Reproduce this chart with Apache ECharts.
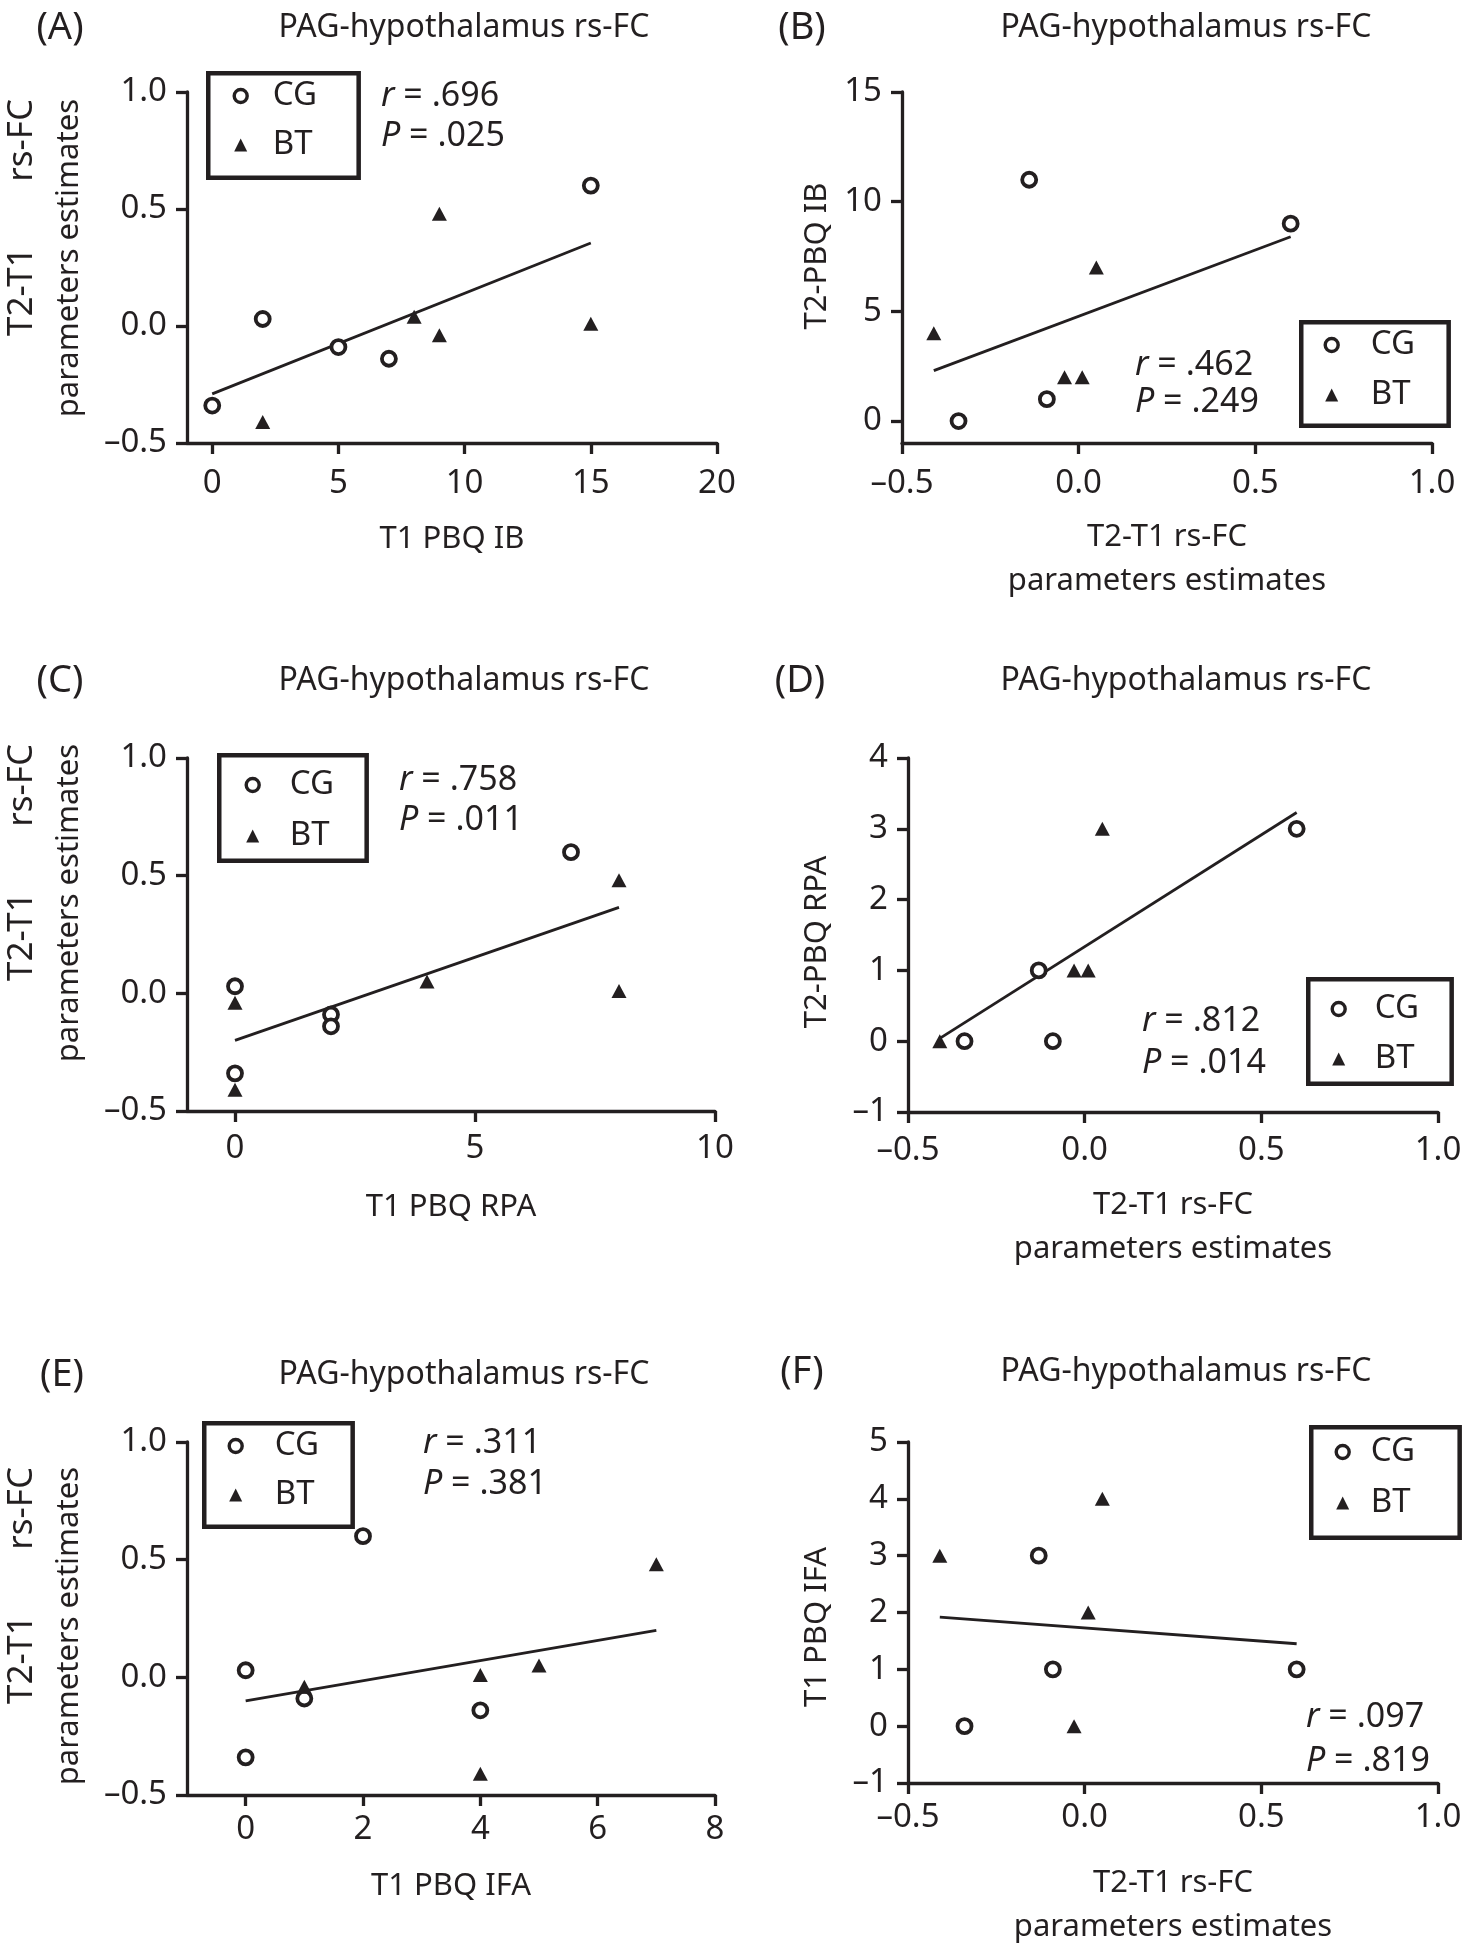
<!DOCTYPE html>
<html>
<head>
<meta charset="utf-8">
<script src="https://cdn.jsdelivr.net/npm/echarts@6/dist/echarts.min.js"></script>
<style>
html,body{margin:0;padding:0;background:#fff;}
#chart{width:1467px;height:1950px;}
</style>
</head>
<body>
<div id="chart"></div>
<script>
// ---------------- DATA ----------------
// Panel A: x = T1 PBQ IB, y = T2-T1 rs-FC parameter estimates
const aCGx = [0, 2, 5, 7, 15];
const aCGy = [-0.34, 0.03, -0.09, -0.14, 0.60];
const aBTx = [2, 8, 9, 9, 15];
const aBTy = [-0.41, 0.04, 0.48, -0.04, 0.01];
const aFitX = [0, 15];
const aFitY = [-0.29, 0.355];

// Panel B: x = T2-T1 rs-FC, y = T2-PBQ IB
const bCGx = [-0.34, -0.14, -0.09, 0.60];
const bCGy = [0, 11, 1, 9];
const bBTx = [-0.41, -0.04, 0.01, 0.05];
const bBTy = [4, 2, 2, 7];
const bFitX = [-0.41, 0.60];
const bFitY = [2.3, 8.4];

// Panel C: x = T1 PBQ RPA, y = T2-T1 rs-FC
const cCGx = [0, 0, 2, 2, 7];
const cCGy = [0.03, -0.34, -0.09, -0.14, 0.60];
const cBTx = [0, 0, 4, 8, 8];
const cBTy = [-0.04, -0.41, 0.05, 0.48, 0.01];
const cFitX = [0, 8];
const cFitY = [-0.20, 0.365];

// Panel D: x = T2-T1 rs-FC, y = T2-PBQ RPA
const dCGx = [-0.34, -0.13, -0.09, 0.60];
const dCGy = [0, 1, 0, 3];
const dBTx = [-0.41, -0.03, 0.01, 0.05];
const dBTy = [0, 1, 1, 3];
const dFitX = [-0.41, 0.60];
const dFitY = [0.04, 3.23];

// Panel E: x = T1 PBQ IFA, y = T2-T1 rs-FC
const eCGx = [0, 0, 1, 2, 4];
const eCGy = [0.03, -0.34, -0.09, 0.60, -0.14];
const eBTx = [1, 4, 4, 5, 7];
const eBTy = [-0.04, 0.01, -0.41, 0.05, 0.48];
const eFitX = [0, 7];
const eFitY = [-0.10, 0.20];

// Panel F: x = T2-T1 rs-FC, y = T1 PBQ IFA
const fCGx = [-0.34, -0.13, -0.09, 0.60];
const fCGy = [0, 3, 1, 1];
const fBTx = [-0.41, -0.03, 0.01, 0.05];
const fBTy = [3, 0, 2, 4];
const fFitX = [-0.41, 0.60];
const fFitY = [1.92, 1.45];

// Tick labels
const ticksA_x = [0, 5, 10, 15, 20];
const ticksC_x = [0, 5, 10];
const ticksE_x = [0, 2, 4, 6, 8];
const ticksFC = [-0.5, 0.0, 0.5, 1.0];
const ticksB_y = [0, 5, 10, 15];
const ticksD_y = [-1, 0, 1, 2, 3, 4];
const ticksF_y = [-1, 0, 1, 2, 3, 4, 5];

// Texts
const panelLabels = ['(A)', '(B)', '(C)', '(D)', '(E)', '(F)'];
const panelTitle = 'PAG-hypothalamus rs-FC';
const statsR = ['.696', '.462', '.758', '.812', '.311', '.097'];
const statsP = ['.025', '.249', '.011', '.014', '.381', '.819'];
const yNameFC = ['T2-T1', 'rs-FC', 'parameters estimates'];
const xNames = ['T1 PBQ IB', 'T2-T1 rs-FC\nparameters estimates', 'T1 PBQ RPA',
                'T2-T1 rs-FC\nparameters estimates', 'T1 PBQ IFA', 'T2-T1 rs-FC\nparameters estimates'];
const yNamesRight = ['T2-PBQ IB', 'T2-PBQ RPA', 'T1 PBQ IFA'];
const groups = ['CG', 'BT'];

// ---------------- STYLE / LAYOUT ----------------
const FONT = 'Noto Sans';
const TXT = '#231f20';
const AX = '#231f20';

const zip = (xs, ys) => xs.map((x, i) => [x, ys[i]]);
const dash = v => (v < 0 ? '\u2013' : '') ;
const fmtDec = v => dash(v) + Math.abs(v).toFixed(1);
const fmtInt = v => dash(v) + Math.abs(v);

const P = [
  { grid:{left:187, top:92, width:530, height:351},
    x:{min:-1, max:20, custom:ticksA_x, fmt:fmtInt, margin:24.5},
    y:{min:-0.5, max:1, custom:ticksFC, fmt:fmtDec},
    data:[aCGx,aCGy,aBTx,aBTy,aFitX,aFitY], nameGap:76, nameLH:40,
    label:[60,28], title:[464,28], stat:[381,96,136], ynameTop:99,
    leg:[206,71,358,176,239,95,142,271] },
  { grid:{left:902, top:92, width:530, height:351},
    x:{min:-0.5, max:1, custom:ticksFC, fmt:fmtDec, margin:24.5},
    y:{min:-1, max:15, custom:ticksB_y, fmt:fmtInt},
    data:[bCGx,bCGy,bBTx,bBTy,bFitX,bFitY], nameGap:72, nameLH:44,
    label:[802,28], title:[1186,28], stat:[1135,365,402], yname:[817,256],
    leg:[1299,320,1448,424,1330,344,392,1369] },
  { grid:{left:187, top:758, width:528, height:353},
    x:{min:-1, max:10, custom:ticksC_x, fmt:fmtInt, margin:21.5},
    y:{min:-0.5, max:1, custom:ticksFC, fmt:fmtDec},
    data:[cCGx,cCGy,cBTx,cBTy,cFitX,cFitY], nameGap:76, nameLH:40,
    label:[60,681], title:[464,681], stat:[399,780,820], ynameTop:744,
    leg:[217,753,366,859,251,784,833,288] },
  { grid:{left:908, top:758, width:530, height:354},
    x:{min:-0.5, max:1, custom:ticksFC, fmt:fmtDec, margin:22.5},
    y:{min:-1, max:4, custom:ticksD_y, fmt:fmtInt},
    data:[dCGx,dCGy,dBTx,dBTy,dFitX,dFitY], nameGap:71, nameLH:44,
    label:[800,681], title:[1186,681], stat:[1142,1021,1063], yname:[817,942],
    leg:[1306,977,1451,1082,1337,1008,1056,1373] },
  { grid:{left:187, top:1442, width:528, height:353},
    x:{min:-1, max:8, custom:ticksE_x, fmt:fmtInt, margin:18.5},
    y:{min:-0.5, max:1, custom:ticksFC, fmt:fmtDec},
    data:[eCGx,eCGy,eBTx,eBTy,eFitX,eFitY], nameGap:71, nameLH:40,
    label:[62,1375], title:[464,1375], stat:[423,1443,1484], ynameTop:1467,
    leg:[202,1421,352,1525,234,1445,1492,273] },
  { grid:{left:908, top:1442, width:530, height:353},
    x:{min:-0.5, max:1, custom:ticksFC, fmt:fmtDec, margin:18.5},
    y:{min:-1, max:5, custom:ticksF_y, fmt:fmtInt},
    data:[fCGx,fCGy,fBTx,fBTy,fFitX,fFitY], nameGap:78, nameLH:44,
    label:[802,1372], title:[1186,1372], stat:[1306,1717,1761], yname:[817,1627],
    leg:[1309,1425,1459,1536,1341,1451,1500,1369] }
];

function legendAt(l) {
  const [oL, oT, oR, oB, icx, cy1, cy2, tx] = l;
  const bw = 4.5, s = 13, lh = 31, textW = 43;
  const L = oL + bw / 2, T = oT + bw / 2, R = oR - bw / 2, B = oB - bw / 2;
  const iconL = icx - s / 2;
  const padL = iconL - L;
  const txtPad = tx - (iconL + s + 5);
  const padR = Math.max(2, R - (iconL + s + 5 + txtPad + textW));
  const padT = (cy1 - lh / 2) - T;
  const gap = (cy2 - cy1) - lh;
  const padB = B - (cy2 + lh / 2);
  return {
    orient: 'vertical', left: L, top: T,
    padding: [padT, padR, padB, padL], itemGap: gap,
    itemWidth: s, itemHeight: s,
    borderColor: AX, borderWidth: bw, borderRadius: 0,
    selectedMode: false,
    textStyle: { fontFamily: FONT, fontSize: 33, lineHeight: lh, color: TXT, padding: [0, 0, 0, txtPad] },
    data: [
      { name: groups[0], icon: 'circle', itemStyle: { color: '#fff', borderColor: AX, borderWidth: 3.4 } },
      { name: groups[1], icon: 'triangle', itemStyle: { color: AX, borderWidth: 0 } }
    ]
  };
}

const grids = [], xAxes = [], yAxes = [], series = [], legends = [], graphics = [];

P.forEach((p, i) => {
  grids.push(p.grid);
  const axisCommon = {
    type: 'value',
    gridIndex: i,
    splitLine: { show: false },
    axisLine: { show: true, onZero: false, lineStyle: { color: AX, width: 3.3 } },
  };
  xAxes.push(Object.assign({}, axisCommon, {
    min: p.x.min, max: p.x.max,
    axisTick: { show: true, length: 11, lineStyle: { color: AX, width: 3.3 }, customValues: p.x.custom },
    axisLabel: { fontFamily: FONT, fontSize: 33, lineHeight: 33, color: TXT, margin: p.x.margin,
                 formatter: p.x.fmt, customValues: p.x.custom },
    name: xNames[i], nameLocation: 'middle', nameGap: p.nameGap,
    nameTextStyle: { fontFamily: FONT, fontSize: 31, lineHeight: p.nameLH, color: TXT }
  }));
  yAxes.push(Object.assign({}, axisCommon, {
    min: p.y.min, max: p.y.max,
    axisTick: { show: true, length: 11, lineStyle: { color: AX, width: 3.3 }, customValues: p.y.custom },
    axisLabel: { fontFamily: FONT, fontSize: 33, color: TXT, margin: 20,
                 formatter: p.y.fmt, customValues: p.y.custom }
  }));
  const [cgx, cgy, btx, bty, fx, fy] = p.data;
  series.push({
    type: 'line', name: 'fit', xAxisIndex: i, yAxisIndex: i, z: 1,
    data: zip(fx, fy), showSymbol: false, symbol: 'none',
    lineStyle: { color: AX, width: 2.8 }, silent: true
  });
  series.push({
    type: 'scatter', name: groups[0], xAxisIndex: i, yAxisIndex: i, z: 3,
    data: zip(cgx, cgy), symbol: 'circle', symbolSize: 14,
    itemStyle: { color: '#fff', borderColor: AX, borderWidth: 3.8, opacity: 1 }
  });
  series.push({
    type: 'scatter', name: groups[1], xAxisIndex: i, yAxisIndex: i, z: 4,
    data: zip(btx, bty), symbol: 'triangle', symbolSize: [15, 14],
    itemStyle: { color: AX, opacity: 1 }
  });
  legends.push(legendAt(p.leg));

  // panel label & title
  graphics.push({ type: 'text', x: p.label[0], y: p.label[1], silent: true,
    style: { text: panelLabels[i], fontFamily: FONT, fontSize: 38, fill: TXT, textAlign: 'center', textVerticalAlign: 'middle' } });
  graphics.push({ type: 'text', x: p.title[0], y: p.title[1], silent: true,
    style: { text: panelTitle, fontFamily: FONT, fontSize: 32, fill: TXT, textAlign: 'center', textVerticalAlign: 'middle' } });
  // statistics
  const rich = { i: { fontStyle: 'italic', fontFamily: FONT, fontSize: 34, fill: TXT } };
  graphics.push({ type: 'text', x: p.stat[0], y: p.stat[1], silent: true,
    style: { text: '{i|r} = ' + statsR[i], rich, fontFamily: FONT, fontSize: 34, fill: TXT, textAlign: 'left', textVerticalAlign: 'middle' } });
  graphics.push({ type: 'text', x: p.stat[0], y: p.stat[2], silent: true,
    style: { text: '{i|P} = ' + statsP[i], rich, fontFamily: FONT, fontSize: 34, fill: TXT, textAlign: 'left', textVerticalAlign: 'middle' } });
  // y axis names
  const ys = { fontFamily: FONT, fontSize: 31, fill: TXT, textVerticalAlign: 'middle' };
  if (p.yname) {
    graphics.push({ type: 'text', x: p.yname[0], y: p.yname[1], rotation: Math.PI / 2, silent: true,
      style: Object.assign({ text: yNamesRight[(i - 1) / 2], textAlign: 'center' }, ys) });
  } else {
    const top = p.ynameTop;
    // first line "T2-T1 rs-FC": its words sit at the two ends, as in the reference
    graphics.push({ type: 'text', x: 22, y: top + 237, rotation: Math.PI / 2, silent: true,
      style: Object.assign({}, ys, { text: yNameFC[0], textAlign: 'left', fontSize: 35 }) });
    graphics.push({ type: 'text', x: 22, y: top, rotation: Math.PI / 2, silent: true,
      style: Object.assign({}, ys, { text: yNameFC[1], textAlign: 'right', fontSize: 35 }) });
    graphics.push({ type: 'text', x: 69, y: top, rotation: Math.PI / 2, silent: true,
      style: Object.assign({ text: yNameFC[2], textAlign: 'right' }, ys) });
  }
});

const chart = echarts.init(document.getElementById('chart'), null, { renderer: 'canvas' });
chart.setOption({
  backgroundColor: '#fff',
  animation: false,
  grid: grids,
  xAxis: xAxes,
  yAxis: yAxes,
  legend: legends,
  series: series,
  graphic: graphics
});
</script>
</body>
</html>
